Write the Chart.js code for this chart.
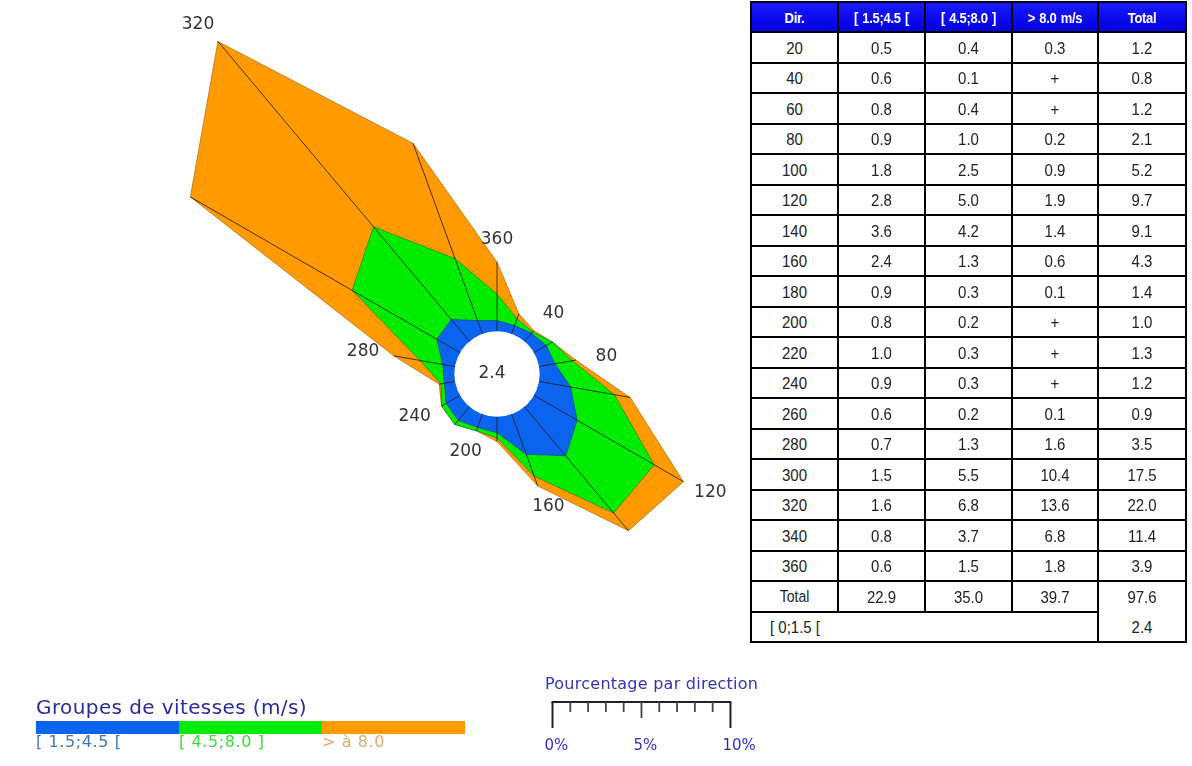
<!DOCTYPE html>
<html>
<head>
<meta charset="utf-8">
<script src="https://cdn.jsdelivr.net/npm/chart.js@4.4.1/dist/chart.umd.min.js"></script>
<style>
  body { margin: 0; width: 1192px; height: 766px; overflow: hidden; background: #fff; position: relative; font-family: 'DejaVu Sans', sans-serif; }
  #rose { position: absolute; left: 0; top: 0; }
  .cell { position: absolute; box-sizing: border-box; border: 1px solid #000; display: flex; align-items: center; justify-content: center;
          font: 15px 'Liberation Sans', Arial, sans-serif; color: #222; background: #fff; }
  .cell span { display: inline-block; transform: scaleY(1.12); }
  .head { background: linear-gradient(#1a1aff, #0000e0); color: #fff; font-weight: bold; font-size: 13px; letter-spacing: -0.3px; word-spacing: 1px; }
  #frame { position: absolute; left: 750px; top: 1px; width: 437px; height: 642px; box-sizing: border-box; border: 1px solid #000; }
  .txt { position: absolute; white-space: nowrap; }
</style>
</head>
<body>
<canvas id="rose" width="844" height="766"></canvas>
<div id="tbl"></div>

<div class="txt" style="left:36px;top:697px;font-size:20px;line-height:20px;letter-spacing:0.4px;color:#2b2b99;">Groupes de vitesses (m/s)</div>
<div id="bar"></div>
<div class="txt" style="left:545px;top:676px;font-size:16px;line-height:16px;letter-spacing:0.25px;color:#3333bb;">Pourcentage par direction</div>

<script>
// wind rose data (percent per direction)
const directions = [20, 40, 60, 80, 100, 120, 140, 160, 180, 200, 220, 240, 260, 280, 300, 320, 340, 360];
const lowSpeed  = [0.5, 0.6, 0.8, 0.9, 1.8, 2.8, 3.6, 2.4, 0.9, 0.8, 1.0, 0.9, 0.6, 0.7, 1.5, 1.6, 0.8, 0.6];
const midSpeed  = [0.4, 0.1, 0.4, 1.0, 2.5, 5.0, 4.2, 1.3, 0.3, 0.2, 0.3, 0.3, 0.2, 1.3, 5.5, 6.8, 3.7, 1.5];
// '+' in the table = trace (< 0.05)
const highSpeed = [0.3, 0.02, 0.02, 0.2, 0.9, 1.9, 1.4, 0.6, 0.1, 0.02, 0.02, 0.02, 0.1, 1.6, 10.4, 13.6, 6.8, 1.8];
const dirTotals = [1.2, 0.8, 1.2, 2.1, 5.2, 9.7, 9.1, 4.3, 1.4, 1.0, 1.3, 1.2, 0.9, 3.5, 17.5, 22.0, 11.4, 3.9];
const groupTotals = [22.9, 35.0, 39.7, 97.6];
const calm = 2.4;
const calmLabel = '[ 0;1.5 [';
const headers = ['Dir.', '[ 1.5;4.5 [', '[ 4.5;8.0 ]', '> 8.0 m/s', 'Total'];
const groupNames = ['[ 1.5;4.5 [', '[ 4.5;8.0 ]', '> à 8.0'];
const groupColors = ['#0a64f0', '#00ec00', '#ff9a00'];
const groupTextColors = ['#3f78b0', '#3fd83f', '#d9ad70'];
const labelledDirections = [40, 80, 120, 160, 200, 240, 280, 320, 360];
const scaleTicks = [0, 1, 2, 3, 4, 5, 6, 7, 8, 9, 10];
const scaleLabels = [0, 5, 10];

// radar starts at north and turns clockwise, so 360 goes first
const order = [17, 0, 1, 2, 3, 4, 5, 6, 7, 8, 9, 10, 11, 12, 13, 14, 15, 16];
const roseLabels = order.map(i => directions[i]);
const blueR = order.map(i => calm + lowSpeed[i]);
const greenR = order.map(i => calm + lowSpeed[i] + midSpeed[i]);
const orangeR = order.map(i => calm + dirTotals[i]);

const fmt = v => v < 0.05 ? '+' : v.toFixed(1);

// ---- table ----
const colX = [751, 838, 925, 1012, 1098, 1186];
const rowY = [2, 32];
for (let i = 0; i < directions.length + 2; i++) rowY.push(32 + (i + 1) * 30.5);
const tbl = document.getElementById('tbl');
function cell(x0, x1, y0, y1, text, cls, extra) {
  const d = document.createElement('div');
  d.className = 'cell' + (cls ? ' ' + cls : '');
  d.style.left = x0 + 'px'; d.style.top = y0 + 'px';
  d.style.width = (x1 - x0) + 'px'; d.style.height = (y1 - y0) + 'px';
  if (extra) Object.assign(d.style, extra);
  const sp = document.createElement('span');
  sp.textContent = text;
  d.appendChild(sp);
  tbl.appendChild(d);
}
headers.forEach((h, c) => cell(colX[c], colX[c + 1], rowY[0], rowY[1], h, 'head'));
directions.forEach((dir, r) => {
  const vals = [dir, fmt(lowSpeed[r]), fmt(midSpeed[r]), fmt(highSpeed[r]), dirTotals[r].toFixed(1)];
  vals.forEach((v, c) => cell(colX[c], colX[c + 1], rowY[r + 1], rowY[r + 2], v));
});
const tr = directions.length + 1;
cell(colX[0], colX[1], rowY[tr], rowY[tr + 1], 'Total', null, { fontSize: '14px' });
groupTotals.forEach((v, c) => cell(colX[c + 1], colX[c + 2], rowY[tr], rowY[tr + 1], v.toFixed(1), null,
  c === 3 ? { borderBottom: 'none' } : null));
cell(colX[0], colX[4], rowY[tr + 1], rowY[tr + 2], calmLabel, null, { justifyContent: 'flex-start', paddingLeft: '18px' });
cell(colX[4], colX[5], rowY[tr + 1], rowY[tr + 2], calm.toFixed(1), null, { borderTop: 'none' });
const frame = document.createElement('div'); frame.id = 'frame'; tbl.appendChild(frame);

// ---- speed group legend ----
const bar = document.getElementById('bar');
const barX = [36, 179, 322, 465];
groupNames.forEach((g, i) => {
  const s = document.createElement('div');
  s.className = 'txt';
  Object.assign(s.style, { left: barX[i] + 'px', top: '721px', width: (barX[i + 1] - barX[i]) + 'px', height: '13px', background: groupColors[i] });
  bar.appendChild(s);
  const t = document.createElement('div');
  t.className = 'txt';
  Object.assign(t.style, { left: barX[i] + 'px', top: '734px', fontSize: '16px', lineHeight: '16px', letterSpacing: '0.6px', color: groupTextColors[i] });
  t.textContent = g;
  bar.appendChild(t);
});

// ---- rose extras: calm hole, spokes, labels, scale bar ----
const roseExtras = {
  id: 'roseExtras',
  afterDatasetsDraw(chart) {
    const s = chart.scales.r;
    const ctx = chart.ctx;
    const cx = s.xCenter, cy = s.yCenter;
    const r0 = s.getDistanceFromCenterForValue(calm);
    ctx.save();
    ctx.fillStyle = '#fff';
    ctx.beginPath();
    ctx.arc(cx, cy, r0, 0, Math.PI * 2);
    ctx.fill();

    ctx.strokeStyle = '#1a1a1a';
    ctx.lineWidth = 0.8;
    orangeR.forEach((v, i) => {
      const a = s.getPointPositionForValue(i, calm);
      const b = s.getPointPositionForValue(i, v);
      ctx.beginPath();
      ctx.moveTo(a.x, a.y);
      ctx.lineTo(b.x, b.y);
      ctx.stroke();
    });

    ctx.font = '17px "DejaVu Sans"';
    ctx.fillStyle = '#333';
    ctx.textAlign = 'center';
    ctx.textBaseline = 'middle';
    ctx.fillText(calm.toFixed(1), cx - 5, cy);
    roseLabels.forEach((lab, i) => {
      if (!labelledDirections.includes(lab)) return;
      const b = s.getPointPositionForValue(i, orangeR[i]);
      const dx = b.x - cx, dy = b.y - cy;
      const len = Math.hypot(dx, dy);
      ctx.fillText(String(lab), b.x + dx / len * 31, b.y + dy / len * 22);
    });

    // percentage scale bar, same unit as the rose
    const unit = s.getDistanceFromCenterForValue(1) - s.getDistanceFromCenterForValue(0);
    const x0 = 552.5, y0 = 702;
    ctx.strokeStyle = '#222';
    ctx.lineWidth = 2;
    ctx.beginPath();
    ctx.moveTo(x0 - 1, y0);
    ctx.lineTo(x0 + 10 * unit + 1, y0);
    ctx.stroke();
    scaleTicks.forEach(k => {
      const x = x0 + k * unit;
      const major = k === 0 || k === 10;
      ctx.lineWidth = major ? 2 : 1.8;
      ctx.strokeStyle = major ? '#222' : '#444';
      ctx.beginPath();
      ctx.moveTo(x, y0);
      ctx.lineTo(x, major ? 728 : (k === 5 ? 718 : 712));
      ctx.stroke();
    });
    ctx.font = '15px "DejaVu Sans"';
    ctx.fillStyle = '#3030c0';
    ctx.textAlign = 'left';
    scaleLabels.forEach(k => ctx.fillText(k + '%', x0 + k * unit - 8, 746));
    ctx.restore();
  }
};

new Chart(document.getElementById('rose'), {
  type: 'radar',
  data: {
    labels: roseLabels,
    datasets: [
      { label: groupNames[0], data: blueR, fill: 'origin', backgroundColor: groupColors[0], borderColor: 'rgba(0,40,120,0.5)', borderWidth: 1, clip: false },
      { label: groupNames[1], data: greenR, fill: 'origin', backgroundColor: groupColors[1], borderColor: 'rgba(0,100,0,0.5)', borderWidth: 1, clip: false },
      { label: groupNames[2], data: orangeR, fill: 'origin', backgroundColor: groupColors[2], borderColor: 'rgba(150,80,0,0.55)', borderWidth: 1, clip: false }
    ]
  },
  options: {
    responsive: false,
    animation: false,
    layout: { padding: { left: 150, right: 0, top: 0, bottom: 18 } },
    plugins: { legend: { display: false }, tooltip: { enabled: false } },
    elements: { line: { tension: 0 }, point: { radius: 0, hoverRadius: 0 } },
    scales: {
      r: {
        min: 0,
        max: 19.5,
        startAngle: 0,
        grid: { display: false },
        angleLines: { display: false },
        ticks: { display: false },
        pointLabels: { display: false }
      }
    }
  },
  plugins: [roseExtras]
});
</script>
</body>
</html>
